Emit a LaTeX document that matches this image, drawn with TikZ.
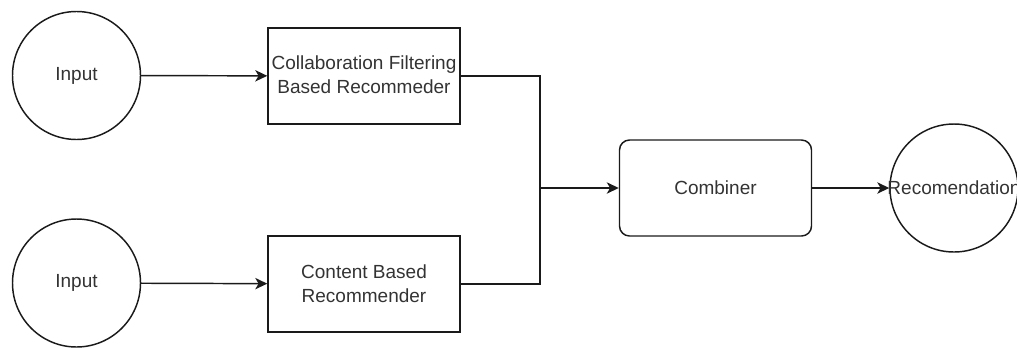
\documentclass[tikz,border=0pt]{standalone}
\usepackage{fontspec}
\setmainfont{Liberation Sans}
\usetikzlibrary{arrows.meta}
\definecolor{ink}{HTML}{1A1A1A}
\definecolor{txt}{HTML}{333333}
\begin{document}
\begin{tikzpicture}[x=0.75pt,y=-0.75pt,
  every node/.style={font=\fontsize{14.25pt}{18pt}\selectfont, text=txt, align=center, inner sep=0pt},
  ionode/.style={draw=ink, line width=1.1pt, circle, minimum size=96pt},
  procbox/.style={draw=ink, line width=1.1pt, rectangle, minimum width=144pt, minimum height=72pt},
  roundbox/.style={procbox, rounded corners=7.5pt},
  flow/.style={draw=ink, line width=1.1pt, -{Stealth[length=9pt,width=8.5pt,inset=2.5pt]}},
  link/.style={draw=ink, line width=1.1pt}]
  \useasboundingbox (0,0) rectangle (1017,347);
  \clip (0,0) rectangle (1017,347);

  % inputs
  \node[ionode] (in1) at (76.5,75.5) {Input};
  \node[ionode] (in2) at (76.5,283) {Input};

  % recommenders
  \node[procbox] (cf) at (364,76) {};
  \node at (364,75) (cflabel) {Collaboration Filtering\\Based Recommeder};
  \node[procbox] (cb) at (364,284) {Content Based\\Recommender};

  % merge point, combiner and output
  \coordinate (j) at (540,188);
  \node[roundbox] (comb) at (715.5,188) {Combiner};
  \node[ionode] (out) at (954,188) {};
  \node (outlabel) at (954,188) {Recomendation};

  % connectors
  \path[flow] (in1) -- (cf);
  \path[flow] (in2) -- (cb);
  \path[link] (cf.east) -| (j);
  \path[link] (cb.east) -| (j);
  \path[flow] (j) -- (comb.west);
  \path[flow] (comb.east) -- (out.west);
\end{tikzpicture}
\end{document}
